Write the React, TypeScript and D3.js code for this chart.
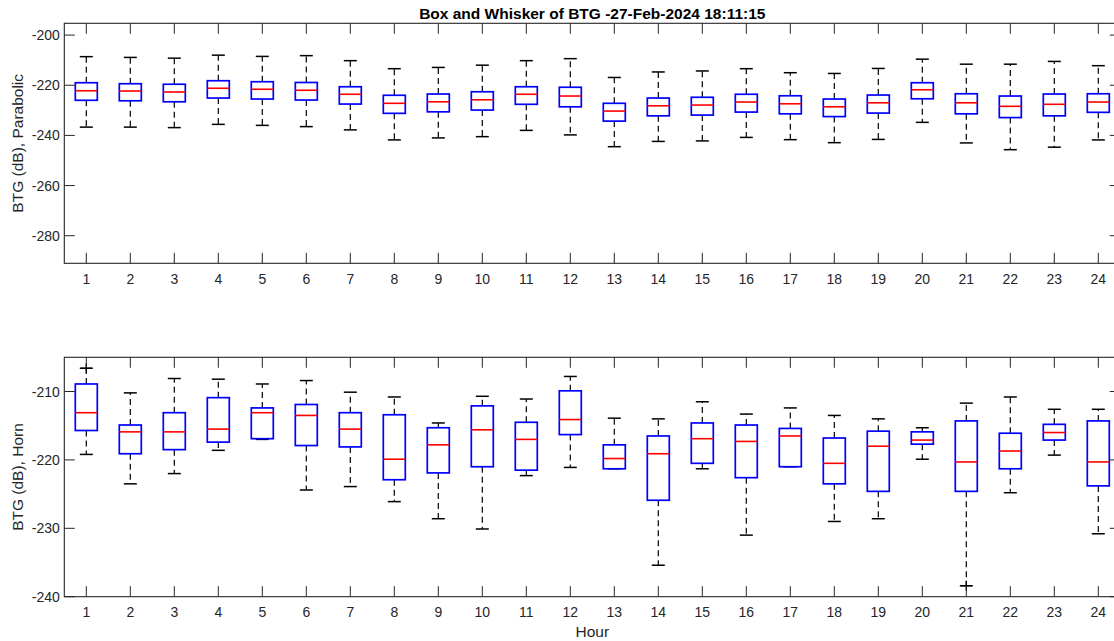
import React from "react";
import * as d3 from "d3";

const hours = [1,2,3,4,5,6,7,8,9,10,11,12,13,14,15,16,17,18,19,20,21,22,23,24];

// Parabolic antenna (top panel)
const paraMax = [-208.6,-208.9,-209.2,-208.0,-208.5,-208.2,-210.2,-213.4,-212.9,-212.0,-210.2,-209.4,-216.9,-214.7,-214.3,-213.4,-215.0,-215.3,-213.3,-209.6,-211.6,-211.6,-210.5,-212.2];
const paraQ3 = [-219.0,-219.4,-219.6,-218.2,-218.6,-218.9,-220.6,-224.0,-223.5,-222.6,-220.6,-220.8,-227.2,-225.1,-224.8,-223.6,-224.2,-225.5,-223.9,-219.0,-223.4,-224.3,-223.5,-223.4];
const paraMed = [-222.2,-222.3,-222.7,-221.2,-221.6,-222.0,-223.6,-227.2,-226.6,-225.8,-223.6,-224.3,-230.3,-228.2,-227.9,-226.7,-227.4,-228.6,-227.0,-221.8,-227.0,-228.4,-227.6,-226.7];
const paraQ1 = [-226.0,-226.2,-226.6,-225.1,-225.5,-225.9,-227.5,-231.2,-230.6,-229.9,-227.6,-228.6,-234.3,-232.2,-231.9,-230.7,-231.4,-232.5,-231.1,-225.4,-231.4,-232.9,-232.2,-230.8];
const paraMin = [-236.7,-236.7,-236.9,-235.6,-236.0,-236.5,-237.8,-241.8,-241.0,-240.5,-238.0,-239.8,-244.5,-242.4,-242.2,-240.8,-241.7,-242.9,-241.6,-234.8,-243.0,-245.7,-244.7,-241.8];

// Horn antenna (bottom panel)
const hornMax = [-206.6,-210.2,-208.1,-208.2,-208.9,-208.4,-210.1,-210.8,-214.6,-210.7,-211.1,-207.8,-213.9,-214.0,-211.5,-213.3,-212.4,-213.5,-214.0,-215.3,-211.7,-210.8,-212.6,-212.6];
const hornQ3 = [-208.9,-214.9,-213.1,-210.9,-212.4,-211.9,-213.1,-213.4,-215.3,-212.1,-214.5,-209.9,-217.8,-216.5,-214.6,-214.9,-215.4,-216.8,-215.8,-215.9,-214.3,-216.1,-214.8,-214.3];
const hornMed = [-213.1,-215.9,-215.9,-215.5,-213.1,-213.5,-215.5,-219.9,-217.8,-215.6,-217.0,-214.1,-219.8,-219.1,-216.9,-217.3,-216.5,-220.5,-218.0,-217.1,-220.3,-218.7,-216.0,-220.3];
const hornQ1 = [-215.7,-219.1,-218.5,-217.4,-216.9,-217.9,-218.1,-222.9,-221.9,-221.0,-221.5,-216.3,-221.3,-225.9,-220.5,-222.6,-221.0,-223.5,-224.6,-217.7,-224.6,-221.3,-217.1,-223.8];
const hornMin = [-219.2,-223.5,-222.0,-218.6,-217.0,-224.4,-223.9,-226.1,-228.6,-230.1,-222.3,-221.1,-221.3,-235.4,-221.3,-231.0,-221.0,-229.0,-228.6,-219.9,-238.4,-224.8,-219.3,-230.8];
const hornOutlierHours = [1, 21];
const hornOutlierValues = [-206.6, -238.4];

const paraTicks = [-280, -260, -240, -220, -200];
const hornTicks = [-240, -230, -220, -210];

const TITLE = "Box and Whisker of BTG -27-Feb-2024 18:11:15";

const FONT = "'Liberation Sans', Arial, Helvetica, sans-serif";
const AX = "#262626";
const TICK_LEN = 10.5;

const X0 = 64.3;
const X1 = 1120.3;

type PanelProps = {
  top: number;
  bottom: number;
  domain: [number, number];
  ticks: number[];
  ylabel: string;
  max: number[];
  q3: number[];
  med: number[];
  q1: number[];
  min: number[];
  outHours?: number[];
  outValues?: number[];
};

const x = d3.scaleLinear().domain([0.5, 24.5]).range([X0, X1]);

function Panel(p: PanelProps) {
  const y = d3.scaleLinear().domain(p.domain).range([p.bottom, p.top]);
  const bw = (x(1.25) - x(1)); // half box width (box = 0.5 units)
  const cw = 6.5; // half cap width
  const cy = (p.top + p.bottom) / 2;
  return (
    <g>
      {hours.map((h, i) => {
        const cx = x(h);
        return (
          <g key={h}>
            <line x1={cx} x2={cx} y1={y(p.q3[i])} y2={y(p.max[i])} stroke="#000" strokeWidth={1.2} strokeDasharray="6,4" />
            <line x1={cx} x2={cx} y1={y(p.q1[i])} y2={y(p.min[i])} stroke="#000" strokeWidth={1.2} strokeDasharray="6,4" />
            <line x1={cx - cw} x2={cx + cw} y1={y(p.max[i])} y2={y(p.max[i])} stroke="#000" strokeWidth={1.5} />
            <line x1={cx - cw} x2={cx + cw} y1={y(p.min[i])} y2={y(p.min[i])} stroke="#000" strokeWidth={1.5} />
            <rect x={cx - bw} y={y(p.q3[i])} width={2 * bw} height={y(p.q1[i]) - y(p.q3[i])} fill="none" stroke="#0000ff" strokeWidth={1.7} />
            <line x1={cx - bw} x2={cx + bw} y1={y(p.med[i])} y2={y(p.med[i])} stroke="#ff0000" strokeWidth={1.6} />
          </g>
        );
      })}
      {(p.outHours || []).map((h, i) => {
        const ox = x(h);
        const oy = y((p.outValues || [])[i]);
        return (
          <g key={"o" + h} stroke="#000" strokeWidth={1.3}>
            <line x1={ox - 5.5} x2={ox + 5.5} y1={oy} y2={oy} />
            <line x1={ox} x2={ox} y1={oy - 5} y2={oy + 5} />
          </g>
        );
      })}
      <rect x={X0} y={p.top} width={X1 - X0} height={p.bottom - p.top} fill="none" stroke={AX} strokeWidth={1.1} />
      {hours.map((h) => (
        <g key={"xt" + h}>
          <line x1={x(h)} x2={x(h)} y1={p.bottom} y2={p.bottom - TICK_LEN} stroke={AX} strokeWidth={1} />
          <line x1={x(h)} x2={x(h)} y1={p.top} y2={p.top + TICK_LEN} stroke={AX} strokeWidth={1} />
          <text x={x(h)} y={p.bottom + 20.3} textAnchor="middle" fontSize={14} fontFamily={FONT} fill={AX}>{h}</text>
        </g>
      ))}
      {p.ticks.map((t) => (
        <g key={"yt" + t}>
          <line x1={X0} x2={X0 + TICK_LEN} y1={y(t)} y2={y(t)} stroke={AX} strokeWidth={1} />
          <line x1={X1} x2={X1 - TICK_LEN} y1={y(t)} y2={y(t)} stroke={AX} strokeWidth={1} />
          <text x={X0 - 4.5} y={y(t) + 5} textAnchor="end" fontSize={14} fontFamily={FONT} fill={AX}>{t}</text>
        </g>
      ))}
      <text transform={`translate(23,${cy}) rotate(-90)`} textAnchor="middle" fontSize={15.5} fontFamily={FONT} fill={AX}>{p.ylabel}</text>
    </g>
  );
}

export default function App() {
  return (
    <svg width={1114} height={641} style={{ position: "absolute", left: 0, top: 0, background: "#fff" }}>
      <rect x={0} y={0} width={1114} height={641} fill="#fff" />
      <text x={(X0 + X1) / 2} y={18.5} textAnchor="middle" fontSize={15.5} fontWeight="bold" fontFamily={FONT} fill="#000">{TITLE}</text>
      <Panel top={23.3} bottom={263.3} domain={[-291, -195.3]} ticks={paraTicks} ylabel="BTG (dB), Parabolic"
        max={paraMax} q3={paraQ3} med={paraMed} q1={paraQ1} min={paraMin} />
      <Panel top={357.3} bottom={596.7} domain={[-240, -205]} ticks={hornTicks} ylabel="BTG (dB), Horn"
        max={hornMax} q3={hornQ3} med={hornMed} q1={hornQ1} min={hornMin}
        outHours={hornOutlierHours} outValues={hornOutlierValues} />
      <text x={(X0 + X1) / 2} y={637.3} textAnchor="middle" fontSize={15.5} fontFamily={FONT} fill={AX}>Hour</text>
    </svg>
  );
}
